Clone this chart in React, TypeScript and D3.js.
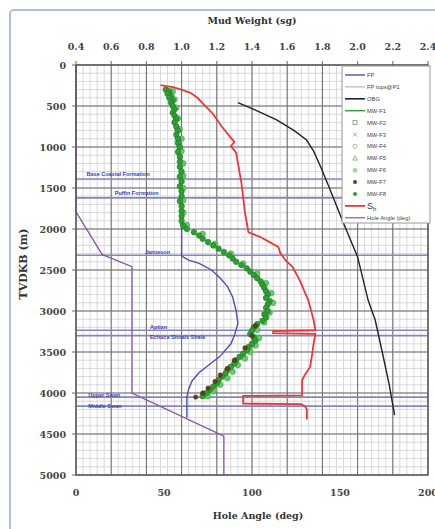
import React from "react";
import * as d3 from "d3";

// ---------- data ----------
const mwTicks = [0.4, 0.6, 0.8, 1.0, 1.2, 1.4, 1.6, 1.8, 2.0, 2.2, 2.4];
const depthTicks = [0, 500, 1000, 1500, 2000, 2500, 3000, 3500, 4000, 4500, 5000];
const angleTicks = [0, 50, 100, 150, 200];

// [depth m, sg]
const fpData: [number, number][] = [
  [1000, 1.0], [2050, 1.0], [2330, 1.0], [2380, 1.04], [2420, 1.1], [2500, 1.17], [2600, 1.22],
  [2700, 1.26], [2830, 1.29], [3000, 1.31], [3150, 1.32], [3300, 1.3], [3400, 1.28], [3550, 1.22],
  [3650, 1.16], [3750, 1.1], [3850, 1.06], [3950, 1.04], [4050, 1.03], [4300, 1.03],
];

const obgData: [number, number][] = [
  [460, 1.32], [550, 1.42], [670, 1.54], [800, 1.64], [915, 1.71], [1050, 1.75], [1240, 1.79],
  [1500, 1.84], [1930, 1.92], [2340, 2.0], [2870, 2.06], [3110, 2.1], [3500, 2.14], [3900, 2.18], [4270, 2.21],
];

const shData: [number, number][] = [
  [245, 0.88], [270, 0.95], [300, 1.0], [340, 1.05], [400, 1.09], [490, 1.13], [600, 1.18], [756, 1.23],
  [940, 1.3], [990, 1.28], [1070, 1.31], [1440, 1.34], [1800, 1.36], [2040, 1.38], [2100, 1.45],
  [2160, 1.5], [2220, 1.55], [2290, 1.56], [2380, 1.59], [2460, 1.63], [2620, 1.67], [2870, 1.72],
  [3110, 1.75], [3235, 1.76], [3245, 1.52], [3270, 1.52], [3280, 1.76], [3400, 1.75], [3550, 1.74],
  [3683, 1.73], [3780, 1.7], [3841, 1.685], [4030, 1.684], [4035, 1.35], [4130, 1.35], [4135, 1.68],
  [4160, 1.7], [4200, 1.712], [4320, 1.712],
];

const mwF1: [number, number][] = [
  [300, 0.92], [500, 0.95], [800, 0.97], [1200, 0.99], [1600, 1.0], [1950, 1.0], [2000, 1.03],
];

const mwF8: [number, number][] = [
  [300, 0.91], [320, 0.93], [350, 0.92], [380, 0.94], [400, 0.93], [430, 0.95], [460, 0.94], [500, 0.95],
  [540, 0.96], [580, 0.95], [620, 0.96], [660, 0.97], [700, 0.96], [750, 0.97], [800, 0.98], [850, 0.97],
  [900, 0.98], [950, 0.98], [1000, 0.99], [1060, 0.98], [1120, 0.99], [1180, 0.99], [1240, 0.99],
  [1300, 1.0], [1360, 0.99], [1420, 1.0], [1480, 0.99], [1540, 1.0], [1600, 1.0], [1660, 0.99],
  [1720, 1.0], [1780, 1.0], [1840, 1.0], [1900, 1.0], [1960, 1.01], [2000, 1.03], [2040, 1.07],
  [2080, 1.1], [2120, 1.12], [2160, 1.15], [2200, 1.18], [2240, 1.21], [2280, 1.24], [2320, 1.27],
  [2360, 1.29], [2400, 1.31], [2440, 1.34], [2480, 1.37], [2520, 1.39], [2560, 1.41], [2600, 1.43],
  [2640, 1.45], [2680, 1.46], [2720, 1.47], [2760, 1.48], [2800, 1.49], [2840, 1.48], [2880, 1.5],
  [2920, 1.49], [2960, 1.48], [3000, 1.49], [3040, 1.47], [3080, 1.48], [3120, 1.46], [3160, 1.43],
  [3200, 1.41], [3240, 1.4], [3280, 1.39], [3320, 1.41], [3360, 1.42], [3400, 1.4], [3440, 1.38],
  [3480, 1.37], [3520, 1.35], [3560, 1.33], [3600, 1.31], [3640, 1.3], [3680, 1.28], [3720, 1.26],
  [3760, 1.25], [3800, 1.23], [3840, 1.21], [3880, 1.2], [3920, 1.18], [3960, 1.16], [4000, 1.14], [4040, 1.12],
];

const mwF6: [number, number][] = [
  [320, 0.95], [420, 0.96], [520, 0.97], [650, 0.98], [780, 0.99], [900, 1.0], [1050, 1.0], [1200, 1.01],
  [1350, 1.01], [1500, 1.01], [1650, 1.01], [1800, 1.01], [1950, 1.03], [2060, 1.12], [2180, 1.19],
  [2300, 1.28], [2420, 1.35], [2540, 1.43], [2660, 1.48], [2780, 1.51], [2900, 1.52], [3020, 1.5],
  [3140, 1.47], [3230, 1.43], [3330, 1.44], [3420, 1.42], [3500, 1.39], [3580, 1.36], [3660, 1.32],
  [3740, 1.29], [3820, 1.26], [3900, 1.22], [3980, 1.18], [4040, 1.15],
];

const mwF7: [number, number][] = [
  [3180, 1.42], [3300, 1.4], [3450, 1.36], [3600, 1.3], [3700, 1.26], [3780, 1.22], [3860, 1.19],
  [3940, 1.15], [4000, 1.12], [4050, 1.08],
];

// [depth m, deg]
const holeAngle: [number, number][] = [
  [0, 0], [1790, 0], [2310, 14.8], [2460, 31.8], [4000, 31.8], [4525, 84], [5000, 84],
];

const formations = [1390, 1620, 2320, 3235, 3300, 4050, 4160];
const formationLabels: [string, number, number][] = [
  ["Base Coastal Formation", 1340, 0.46],
  ["Puffin Formation", 1570, 0.62],
  ["Jamieson", 2290, 0.79],
  ["Aptian", 3200, 0.82],
  ["Echuca Shoals Shale", 3320, 0.82],
  ["Upper Swan", 4030, 0.47],
  ["Middle Swan", 4170, 0.47],
];

const legendItems = [
  "FP", "FP tops@P1", "OBG", "MW-F1", "MW-F2", "MW-F3", "MW-F4", "MW-F5", "MW-F6", "MW-F7", "MW-F8", "Sh", "Hole Angle (deg)",
];

// ---------- layout ----------
const L = 76, R = 428, T = 65, B = 475;
const x = d3.scaleLinear().domain([0.4, 2.4]).range([L, R]);
const xa = d3.scaleLinear().domain([0, 200]).range([L, R]);
const y = d3.scaleLinear().domain([0, 5000]).range([T, B]);

const lineSg = d3.line<[number, number]>().x((d) => x(d[1])).y((d) => y(d[0]));
const lineAng = d3.line<[number, number]>().x((d) => xa(d[1])).y((d) => y(d[0]));

const C = {
  fp: "#4b4fb8",
  obg: "#222",
  sh: "#e8383a",
  ang: "#8a55a8",
  green: "#2f9e34",
  greenDark: "#1d7a22",
  light: "#66cc66",
  brown: "#6e3a1e",
  form: "#8486c0",
  formText: "#3b3fb0",
};
const serif = "'DejaVu Serif', 'Liberation Serif', serif";
const sans = "'Liberation Sans', Arial, sans-serif";

export default function App() {
  const minorX = d3.range(0.4, 2.4001, 0.04);
  const minorY = d3.range(0, 5001, 100);
  return (
    <svg width={435} height={529} style={{ position: "absolute", left: 0, top: 0, background: "#fff" }}>
      <rect x={10} y={10} width={440} height={540} rx={4} fill="#fff" stroke="#aebfe0" strokeWidth={2} />
      {/* grid */}
      <g>
        {minorX.map((v, i) => (
          <line key={"mx" + i} x1={x(v)} x2={x(v)} y1={T} y2={B} stroke="#cfcfd4" strokeWidth={0.8} />
        ))}
        {minorY.map((v, i) => (
          <line key={"my" + i} x1={L} x2={R} y1={y(v)} y2={y(v)} stroke="#cfcfd4" strokeWidth={0.8} />
        ))}
        {mwTicks.map((v) => (
          <line key={"Mx" + v} x1={x(v)} x2={x(v)} y1={T - 4} y2={B} stroke="#6a6a6a" strokeWidth={1} />
        ))}
        {depthTicks.map((v) => (
          <line key={"My" + v} x1={L - 4} x2={R} y1={y(v)} y2={y(v)} stroke="#6a6a6a" strokeWidth={1} />
        ))}
      </g>
      {/* formation tops */}
      {formations.map((d) => (
        <line key={"f" + d} x1={L} x2={R} y1={y(d)} y2={y(d)} stroke={C.form} strokeWidth={1.6} />
      ))}
      {formationLabels.map(([t, d, s]) => (
        <text key={t} x={x(s)} y={y(d)} fontFamily={sans} fontSize={5.5} fontWeight="bold" fill={C.formText} dominantBaseline="middle">
          {t}
        </text>
      ))}
      {/* hole angle */}
      <path d={lineAng(holeAngle) || ""} fill="none" stroke={C.ang} strokeWidth={1.3} />
      {/* FP */}
      <path d={lineSg(fpData) || ""} fill="none" stroke={C.fp} strokeWidth={1.4} />
      {/* OBG */}
      <path d={lineSg(obgData) || ""} fill="none" stroke={C.obg} strokeWidth={1.4} />
      {/* MW */}
      <path d={lineSg(mwF1) || ""} fill="none" stroke={C.green} strokeWidth={3} />
      {mwF6.map((d, i) => (
        <circle key={"f6" + i} cx={x(d[1])} cy={y(d[0])} r={2.8} fill={C.light} stroke="#3faa3f" strokeWidth={0.6} />
      ))}
      {mwF8.map((d, i) => (
        <circle key={"f8" + i} cx={x(d[1])} cy={y(d[0])} r={2.8} fill={C.green} stroke={C.greenDark} strokeWidth={0.6} />
      ))}
      {mwF7.map((d, i) => (
        <circle key={"f7" + i} cx={x(d[1])} cy={y(d[0])} r={2.2} fill={C.brown} stroke="#3d2010" strokeWidth={0.5} />
      ))}
      {/* Sh */}
      <path d={lineSg(shData) || ""} fill="none" stroke={C.sh} strokeWidth={1.8} />
      {/* frame */}
      <rect x={L} y={T} width={R - L} height={B - T} fill="none" stroke="#555" strokeWidth={1.3} />
      {/* axes labels */}
      <text x={252} y={24} textAnchor="middle" fontFamily={serif} fontWeight="bold" fontSize={9.5} fill="#333">Mud Weight (sg)</text>
      {mwTicks.map((v) => (
        <text key={"tl" + v} x={x(v)} y={50} textAnchor="middle" fontFamily={serif} fontWeight="bold" fontSize={9.5} fill="#444">
          {v.toFixed(1)}
        </text>
      ))}
      {depthTicks.map((v) => (
        <text key={"yl" + v} x={66} y={y(v) + 3.5} textAnchor="end" fontFamily={serif} fontWeight="bold" fontSize={9.5} fill="#444">
          {v}
        </text>
      ))}
      {angleTicks.map((v) => (
        <text key={"al" + v} x={xa(v)} y={496} textAnchor="middle" fontFamily={serif} fontWeight="bold" fontSize={9.5} fill="#444">
          {v}
        </text>
      ))}
      <text x={258} y={519} textAnchor="middle" fontFamily={serif} fontWeight="bold" fontSize={9.5} fill="#333">Hole Angle (deg)</text>
      <text transform="translate(27,264) rotate(-90)" textAnchor="middle" fontFamily={serif} fontWeight="bold" fontSize={11} fill="#333">TVDKB (m)</text>
      {/* legend */}
      <g>
        <rect x={342} y={66} width={88} height={157} fill="#fff" stroke="#9a9a9a" strokeWidth={1} />
        {legendItems.map((name, i) => {
          const cy = 75 + i * 11.9;
          const x1 = 345, x2 = 365, mx = 355;
          let sym: React.ReactNode = null;
          if (name === "FP") sym = <line x1={x1} x2={x2} y1={cy} y2={cy} stroke={C.fp} strokeWidth={1.4} />;
          else if (name === "FP tops@P1") sym = <line x1={x1} x2={x2} y1={cy} y2={cy} stroke="#aaa" strokeWidth={1} />;
          else if (name === "OBG") sym = <line x1={x1} x2={x2} y1={cy} y2={cy} stroke={C.obg} strokeWidth={1.6} />;
          else if (name === "MW-F1") sym = <line x1={x1} x2={x2} y1={cy} y2={cy} stroke={C.green} strokeWidth={1.4} />;
          else if (name === "MW-F2") sym = <rect x={mx - 2} y={cy - 2} width={4} height={4} fill="none" stroke="#7a9a7a" strokeWidth={0.8} />;
          else if (name === "MW-F3") sym = <path d={`M${mx - 2},${cy - 2}L${mx + 2},${cy + 2}M${mx - 2},${cy + 2}L${mx + 2},${cy - 2}`} stroke="#7a9a7a" strokeWidth={0.8} />;
          else if (name === "MW-F4") sym = <circle cx={mx} cy={cy} r={2} fill="none" stroke="#8ab08a" strokeWidth={0.8} />;
          else if (name === "MW-F5") sym = <path d={`M${mx},${cy - 2.3}L${mx + 2.2},${cy + 1.8}L${mx - 2.2},${cy + 1.8}Z`} fill="none" stroke="#6aa86a" strokeWidth={0.8} />;
          else if (name === "MW-F6") sym = <circle cx={mx} cy={cy} r={2} fill="#a8dca8" stroke="#8ac08a" strokeWidth={0.6} />;
          else if (name === "MW-F7") sym = <circle cx={mx} cy={cy} r={2} fill={C.brown} />;
          else if (name === "MW-F8") sym = <circle cx={mx} cy={cy} r={2} fill={C.green} />;
          else if (name === "Sh") sym = <line x1={x1} x2={x2} y1={cy} y2={cy} stroke={C.sh} strokeWidth={1.8} />;
          else sym = <line x1={x1} x2={x2} y1={cy} y2={cy} stroke={C.ang} strokeWidth={1.2} />;
          return (
            <g key={name}>
              {sym}
              {name === "Sh" ? (
                <text x={367} y={cy + 3} fontFamily={sans} fontSize={9} fill="#333">
                  S<tspan fontSize={6} dy={2}>h</tspan>
                </text>
              ) : (
                <text x={367} y={cy + 2} fontFamily={sans} fontSize={5.8} fill="#444">{name}</text>
              )}
            </g>
          );
        })}
      </g>
    </svg>
  );
}
